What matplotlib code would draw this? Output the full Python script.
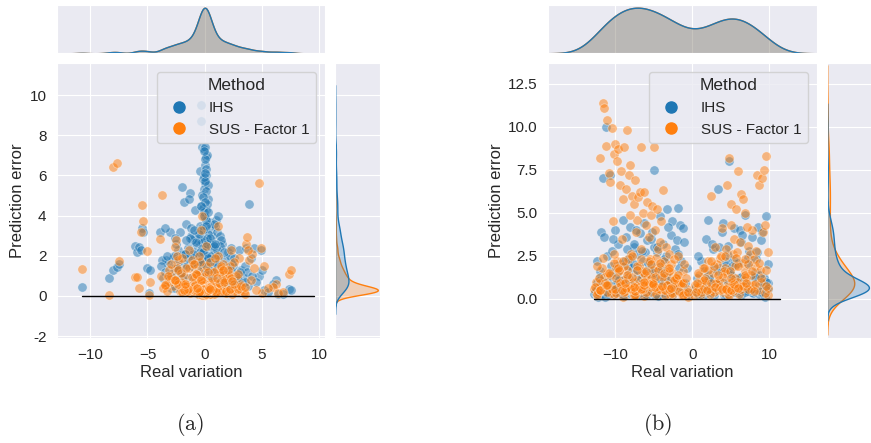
import matplotlib
matplotlib.use("Agg")
import matplotlib.pyplot as plt
from matplotlib.lines import Line2D
import seaborn as sns
import pandas as pd

# ---- panel (a): real variation (shared by both methods) and prediction errors
real_a = [
    -0.30, -0.30, -0.20, -0.10, 0.00, 0.10, 0.20, -0.40, 0.00, 0.15,
    -0.15, 0.05, -0.05, 0.25, -0.25, 0.30, -0.35, 0.10, -0.10, 0.00,
    0.40, -0.45, 0.50, -0.55, 0.60, -0.60, 0.35, -0.20, 0.20, 0.05,
    -0.70, 0.70, -0.80, 0.80, 0.45, -0.50, 0.15, -0.15, 0.55, -0.05,
    0.90, -0.90, 1.00, -1.00, 0.65, -0.65, 0.25, -0.30, 0.35, -0.40,
    1.10, -1.10, 1.20, -1.20, 0.75, -0.75, 0.00, 0.10, -0.10, 0.50,
    -1.5, 1.5, -1.8, 1.8, -2.0, 2.0, -2.3, 2.3, -2.5, 2.5,
    -1.3, 1.3, -1.6, 1.6, -2.2, 2.2, -2.8, 2.8, -3.0, 3.0,
    -1.4, 1.4, -1.7, 1.7, -1.9, 1.9, -2.6, 2.6, -3.2, 3.2,
    -1.2, 1.2, -2.1, 2.1, -2.4, 2.4, -2.7, 2.7, -3.4, 3.4,
    -10.7, -8.4, -8.0, -7.7, -7.5, -6.1, -5.9, -5.7, -5.5, -5.4,
    -5.0, -4.8, -4.9, -3.9, -3.7, -3.5, -3.8, -3.6, -3.3, -5.6,
    3.6, 3.9, 4.3, 4.7, 4.9, 5.0, 5.2, 6.2, 6.0, 6.4,
    7.4, 7.5, 3.5, 3.7, 4.1, 4.5, 5.5, 6.8, 3.8, 4.0,
    0.05, -0.05, 0.15, -0.15, 0.20, -0.25, 0.30, 0.00, -0.35, 0.40,
    1.3, -1.3, 0.85, -0.85, 0.95, -0.95, 1.6, -1.6, 2.0, -2.0,
    0.02, -0.02, 0.08, -0.08, 0.12, -0.12, 0.18, -0.18, 0.22, -0.22,
    0.28, -0.28, 0.32, -0.32, 0.38, -0.38, 0.42, -0.42, 0.48, -0.48,
    0.03, -0.06, 0.09, -0.11, 0.14, -0.16, 0.19, -0.23, 0.27, -0.31,
    0.52, -0.58, 0.62, -0.68, 0.72, -0.78, 0.88, -0.92, 1.05, -1.15,
    0.00, 0.06, -0.04, 0.11, -0.13, 0.17, -0.21, 0.24, -0.26, 0.33,
    1.25, -1.35, 1.45, -1.55, 1.65, -1.75, 1.85, -2.05, 2.25, -2.45,
    0.07, -0.09, 0.13, -0.17, 0.21, -0.24, 0.36, -0.44, 0.56, -0.64,
    2.6, -2.9, 3.1, -3.1, 2.9, -2.6, 0.76, -0.82, 0.98, -1.02,
    0.04, -0.03, 0.10, -0.07, 0.16, -0.19, 0.26, -0.29, 0.34, -0.37,
    1.4, -1.45, 1.7, -1.85, 2.15, -2.35, 0.46, -0.53, 0.66, -0.71,
    -3.2, -2.9, -2.6, -2.3, -2.0, -1.7, -1.4, -1.1, -0.8, -0.5,
    0.5, 0.8, 1.1, 1.4, 1.7, 2.0, 2.3, 2.6, 2.9, 3.2,
    -2.4, -1.6, -0.9, -0.3, 0.3, 0.9, 1.6, 2.4, -3.5, 3.5,
]
ihs_a = [
    9.5, 8.7, 7.4, 7.3, 7.4, 6.9, 7.0, 6.2, 6.5, 6.0,
    5.8, 5.6, 5.3, 5.5, 5.0, 4.8, 4.5, 4.3, 4.1, 3.9,
    3.7, 3.5, 3.3, 3.2, 3.0, 2.9, 2.7, 2.6, 2.5, 2.3,
    2.8, 2.4, 2.6, 2.2, 2.0, 1.9, 1.8, 1.7, 1.5, 1.4,
    3.5, 2.2, 3.8, 1.9, 1.3, 1.1, 1.0, 0.9, 0.8, 0.7,
    3.2, 2.8, 4.0, 3.0, 0.6, 0.5, 0.4, 0.3, 0.2, 0.1,
    2.4, 2.6, 4.7, 1.8, 5.4, 2.2, 2.3, 2.4, 2.6, 1.5,
    5.1, 3.0, 3.6, 1.2, 3.2, 2.0, 1.9, 1.0, 3.2, 2.3,
    4.8, 2.8, 1.6, 0.9, 2.1, 1.4, 2.9, 0.8, 1.6, 1.3,
    3.4, 1.9, 1.2, 0.7, 0.9, 1.6, 2.0, 0.5, 1.8, 0.9,
    0.45, 0.9, 1.3, 1.45, 1.6, 2.5, 2.2, 2.45, 3.4, 3.2,
    1.4, 1.3, 0.15, 3.2, 1.8, 3.4, 1.5, 0.9, 2.0, 2.3,
    2.4, 4.6, 2.4, 1.0, 2.3, 1.3, 0.3, 0.8, 0.6, 0.1,
    0.35, 0.3, 1.5, 1.2, 1.0, 0.7, 0.2, 0.1, 0.5, 1.9,
    0.2, 0.3, 0.5, 0.6, 0.8, 1.0, 1.2, 1.4, 1.1, 1.6,
    2.5, 2.9, 3.6, 4.3, 2.0, 1.7, 0.6, 0.4, 0.3, 0.5,
    6.8, 7.2, 6.3, 5.9, 5.2, 4.9, 4.6, 4.4, 3.6, 3.4,
    3.1, 2.7, 2.5, 2.1, 1.9, 1.6, 1.4, 1.2, 1.0, 0.9,
    0.8, 0.7, 0.6, 0.5, 0.45, 0.4, 0.35, 0.3, 0.25, 0.2,
    2.0, 1.7, 1.3, 1.1, 0.9, 0.8, 0.6, 0.5, 2.3, 0.4,
    5.7, 6.1, 4.2, 3.8, 3.3, 2.9, 2.4, 2.0, 1.8, 1.5,
    1.2, 0.9, 0.7, 1.5, 0.6, 2.1, 0.5, 1.1, 0.4, 0.8,
    1.3, 1.1, 0.95, 0.75, 0.65, 0.55, 1.7, 2.2, 0.35, 0.3,
    0.6, 0.4, 1.2, 1.0, 0.9, 1.4, 2.6, 0.7, 1.6, 2.1,
    4.7, 4.0, 3.5, 2.8, 2.6, 2.2, 1.9, 1.6, 1.3, 1.0,
    0.3, 1.9, 1.1, 0.6, 0.8, 1.3, 0.25, 0.5, 0.7, 0.15,
    0.6, 1.1, 0.4, 1.7, 0.9, 2.1, 0.5, 1.5, 2.7, 3.1,
    2.9, 2.5, 1.6, 0.7, 2.2, 0.5, 1.3, 1.9, 0.8, 0.4,
    1.4, 2.8, 3.3, 4.5, 4.2, 2.6, 1.0, 0.6, 1.2, 0.7,
]
sus_a = [
    0.3, 0.1, 0.5, 0.2, 0.9, 0.4, 0.6, 0.25, 1.2, 0.15,
    0.35, 0.05, 0.7, 0.2, 1.0, 0.45, 0.3, 1.5, 0.1, 0.6,
    0.2, 0.8, 0.35, 0.1, 0.55, 1.3, 0.25, 4.0, 0.4, 0.15,
    0.6, 0.2, 1.1, 0.3, 0.1, 0.5, 2.5, 0.2, 0.7, 0.3,
    0.4, 0.9, 0.15, 0.25, 0.6, 0.3, 0.1, 3.3, 0.45, 1.7,
    0.2, 0.55, 2.0, 0.35, 0.15, 0.8, 0.05, 0.25, 0.4, 0.3,
    0.3, 0.5, 1.0, 0.2, 0.4, 0.8, 1.8, 2.3, 2.8, 0.35,
    0.15, 1.2, 0.6, 0.4, 0.25, 1.5, 0.5, 0.2, 0.7, 1.9,
    2.3, 0.3, 0.2, 1.1, 0.6, 0.15, 2.45, 0.45, 0.9, 0.3,
    0.5, 3.5, 0.7, 0.3, 1.4, 0.1, 0.8, 1.0, 0.6, 0.2,
    1.35, 0.05, 6.4, 6.6, 1.75, 0.95, 0.95, 0.4, 4.55, 3.75,
    2.25, 0.7, 0.05, 2.85, 5.0, 0.5, 1.0, 0.4, 0.25, 3.2,
    2.6, 1.8, 1.4, 5.6, 2.4, 0.15, 1.5, 0.6, 0.45, 0.15,
    1.1, 1.3, 0.1, 2.95, 2.1, 0.3, 0.4, 0.2, 2.3, 0.8,
    0.1, 0.2, 0.3, 0.15, 0.25, 0.05, 0.35, 0.2, 0.45, 0.1,
    0.2, 0.4, 0.1, 0.3, 0.6, 0.2, 1.6, 0.5, 1.0, 0.2,
    0.25, 0.3, 0.2, 0.35, 0.15, 0.4, 0.28, 0.22, 0.1, 0.32,
    0.18, 0.26, 0.45, 0.12, 0.3, 0.5, 0.2, 0.38, 0.08, 0.27,
    0.6, 0.23, 0.33, 0.14, 0.42, 0.29, 0.19, 0.75, 0.24, 0.36,
    0.3, 0.85, 0.21, 1.05, 0.34, 0.17, 1.25, 0.28, 0.4, 0.95,
    0.27, 0.13, 0.31, 0.24, 0.55, 0.2, 0.37, 0.16, 0.29, 0.44,
    0.65, 0.3, 1.4, 0.25, 0.9, 0.48, 0.22, 1.15, 0.35, 0.7,
    0.21, 0.34, 0.26, 0.12, 0.39, 0.23, 0.31, 0.18, 0.47, 0.25,
    1.7, 1.0, 0.6, 1.3, 0.35, 0.8, 0.3, 0.52, 0.2, 1.6,
    0.33, 0.26, 0.11, 0.28, 0.22, 0.36, 0.3, 0.19, 0.41, 0.24,
    1.2, 0.35, 0.78, 0.27, 1.1, 0.58, 0.32, 0.21, 0.9, 0.38,
    1.0, 1.6, 0.8, 1.3, 1.9, 0.6, 1.4, 1.8, 1.1, 2.0,
    1.7, 1.2, 0.9, 1.5, 0.7, 1.3, 0.9, 0.6, 1.1, 0.5,
    2.0, 1.4, 1.6, 0.8, 1.2, 1.9, 1.3, 0.75, 0.55, 0.45,
]

# ---- panel (b)
real_b = [
    -12.7, -12.5, -12.3, -12.0, -11.8, -11.6, -11.4, -11.2, -11.0, -10.8,
    -10.6, -10.4, -10.2, -10.0, -9.8, -9.6, -9.4, -9.2, -9.0, -8.8,
    -8.6, -8.4, -8.2, -8.0, -7.8, -7.6, -7.4, -7.2, -7.0, -6.8,
    -6.6, -6.4, -6.2, -6.0, -5.8, -5.6, -5.4, -5.2, -5.0, -4.8,
    -4.6, -4.4, -4.2, -4.0, -3.8, -3.6, -3.4, -3.2, -3.0, -2.8,
    -2.6, -2.4, -2.2, -2.0, -1.8, -1.6, -1.4, -1.2, -1.0, -0.7,
    -11.5, -10.9, -10.3, -9.7, -9.1, -8.5, -7.9, -7.3, -6.7, -6.1,
    -5.5, -4.9, -4.3, -3.7, -3.1, -2.5, -1.9, -1.3, -8.9, -8.1,
    -7.7, -7.1, -6.5, -5.9, -5.3, -4.7, -6.9, -7.5, -8.3, -9.3,
    -10.1, -9.9, -8.7, -7.0, -6.3, -5.7, -5.1, -4.5, -3.9, -3.3,
    -11.9, -11.1, -10.5, -9.5, -8.0, -7.6, -6.0, -4.1, -2.9, -2.1,
    -12.2, -9.0, -7.8, -6.6, -5.4, -4.4, -3.5, -1.5, -0.9, -0.5,
    0.3, 0.6, 0.9, 1.2, 1.5, 1.8, 2.1, 2.4, 2.7, 3.0,
    3.3, 3.6, 3.9, 4.2, 4.5, 4.8, 5.1, 5.4, 5.7, 6.0,
    6.3, 6.6, 6.9, 7.2, 7.5, 7.8, 8.1, 8.4, 8.7, 9.0,
    9.3, 9.6, 9.9, 1.0, 2.0, 3.2, 4.0, 4.4, 4.7, 5.0,
    5.3, 5.6, 6.2, 6.8, 7.4, 8.0, 8.6, 9.2, 3.5, 4.6,
    2.6, 1.4, 5.9, 6.5, 7.1, 7.7, 8.3, 8.9, 9.5, 9.8,
    0.8, 1.7, 2.9, 3.8, 4.3, 4.9, 5.5, 6.1, 6.7, 7.3,
    2.3, 3.4, 4.1, 4.8, 5.2, 5.8, 6.4, 7.0, 7.9, 8.8,
    -12.6, -12.4, -12.1, -11.9, -11.7, -11.3, -11.0, -10.7, -10.4, -10.1,
    -9.85, -9.55, -9.25, -8.95, -8.65, -8.35, -8.05, -7.75, -7.45, -7.15,
    -6.85, -6.55, -6.25, -5.95, -5.65, -5.35, -5.05, -4.75, -4.45, -4.15,
    -3.85, -3.55, -3.25, -2.95, -2.65, -2.35, -2.05, -1.75, -1.45, -1.15,
    -12.0, -11.2, -10.0, -9.4, -8.8, -8.2, -7.2, -6.4, -5.6, -4.8,
    -7.9, -7.4, -6.9, -6.6, -6.2, -8.6, -9.1, -5.2, -3.0, -0.6,
    0.4, 0.7, 1.1, 1.6, 2.2, 2.8, 3.1, 3.7, 4.0, 4.5,
    4.9, 5.3, 5.8, 6.3, 6.9, 7.6, 8.2, 8.9, 9.4, 9.9,
    1.3, 1.9, 2.5, 3.6, 4.2, 4.7, 5.2, 5.6, 6.6, 7.3,
    0.5, 3.0, 3.9, 4.4, 5.0, 5.4, 6.0, 7.0, 8.0, 9.6,
    -12.3, -11.6, -10.8, -10.2, -9.6, -9.0, -8.4, -7.8, -7.2, -6.6,
    -6.0, -5.4, -4.8, -4.2, -3.6, -3.0, -2.4, -1.8, -1.2, -0.8,
    -11.0, -9.9, -8.7, -7.5, -6.3, -5.1, -3.9, -2.7, 0.6, 1.5,
    2.4, 3.3, 4.2, 5.1, 6.0, 6.9, 7.8, 8.7, 9.6, 5.7,
]
ihs_b = [
    0.3, 0.5, 2.2, 0.8, 3.9, 7.0, 3.6, 10.0, 2.5, 1.2,
    7.2, 2.8, 0.4, 4.0, 1.5, 3.2, 0.9, 2.0, 4.6, 1.1,
    3.6, 0.6, 2.4, 4.2, 1.8, 3.0, 0.7, 2.6, 1.4, 3.8,
    0.5, 2.2, 4.4, 1.3, 3.4, 0.8, 2.0, 3.9, 7.5, 1.6,
    2.7, 0.9, 4.8, 1.9, 3.2, 0.4, 2.5, 5.2, 1.2, 3.7,
    4.5, 0.7, 2.9, 3.4, 5.3, 4.3, 2.2, 4.1, 3.3, 1.8,
    1.0, 0.2, 3.5, 1.9, 0.6, 2.9, 1.1, 4.0, 0.3, 2.7,
    1.4, 3.0, 0.6, 2.3, 4.2, 1.0, 2.6, 0.5, 0.15, 2.4,
    0.9, 1.7, 2.8, 0.2, 3.5, 1.2, 0.7, 3.2, 1.9, 0.4,
    0.8, 1.4, 2.2, 0.3, 1.6, 2.1, 0.9, 3.0, 1.5, 0.6,
    1.6, 0.7, 1.9, 0.5, 1.0, 2.0, 0.2, 1.7, 0.8, 1.3,
    0.1, 0.3, 0.45, 1.2, 0.6, 0.25, 1.1, 0.4, 0.9, 0.2,
    0.5, 1.2, 0.3, 2.2, 1.6, 3.5, 4.6, 1.0, 2.9, 0.7,
    6.4, 1.8, 3.9, 0.9, 2.6, 8.0, 1.4, 4.1, 2.0, 0.4,
    3.3, 1.1, 4.9, 2.4, 0.6, 3.6, 1.5, 2.7, 0.3, 3.9,
    1.2, 4.8, 2.0, 0.2, 1.4, 0.5, 4.4, 1.9, 3.1, 0.8,
    2.3, 1.0, 4.0, 0.5, 2.8, 1.3, 4.2, 0.9, 3.0, 1.7,
    3.2, 0.8, 2.1, 3.7, 1.0, 0.4, 2.3, 3.4, 0.1, 0.6,
    2.5, 0.3, 1.8, 0.6, 2.2, 1.5, 0.4, 1.2, 0.9, 2.0,
    1.1, 1.6, 0.2, 0.7, 1.9, 0.5, 1.3, 0.8, 0.35, 1.4,
    0.4, 0.9, 0.2, 1.3, 0.6, 0.1, 1.0, 0.5, 1.5, 0.3,
    0.7, 1.1, 0.45, 0.2, 0.85, 1.4, 0.35, 0.6, 1.0, 0.25,
    0.5, 1.2, 0.8, 0.3, 0.65, 1.6, 0.4, 0.9, 0.15, 1.1,
    0.6, 0.3, 1.3, 0.75, 0.2, 0.95, 0.5, 1.8, 0.4, 0.7,
    1.1, 0.55, 0.8, 0.35, 0.6, 0.9, 0.45, 0.7, 0.5, 0.25,
    0.55, 0.65, 0.85, 0.4, 0.7, 0.5, 0.6, 0.75, 0.9, 0.3,
    0.6, 0.3, 0.9, 0.45, 1.2, 0.2, 0.7, 1.0, 0.5, 0.8,
    0.35, 1.1, 0.6, 0.25, 0.85, 0.5, 1.3, 0.4, 0.7, 0.95,
    0.55, 0.8, 0.4, 0.65, 0.3, 0.75, 0.6, 0.9, 0.5, 0.45,
    0.7, 0.6, 0.55, 0.85, 0.65, 0.4, 0.5, 0.75, 0.6, 1.0,
    0.5, 0.3, 0.8, 0.6, 0.4, 0.9, 0.7, 0.5, 1.0, 0.6,
    0.8, 0.45, 0.7, 0.55, 0.9, 0.65, 0.5, 0.75, 0.6, 0.4,
    0.35, 0.55, 0.65, 0.5, 0.7, 0.6, 0.8, 0.45, 0.6, 0.7,
    0.5, 0.9, 0.55, 0.65, 0.75, 0.4, 0.6, 0.8, 0.5, 0.7,
]
sus_b = [
    0.6, 1.0, 0.2, 8.2, 0.5, 11.4, 11.1, 8.9, 10.4, 7.3,
    6.8, 9.9, 8.4, 9.0, 8.0, 8.7, 6.6, 7.4, 5.8, 8.8,
    6.4, 9.8, 7.2, 7.8, 6.0, 5.5, 6.9, 4.6, 5.9, 6.2,
    8.8, 5.0, 6.2, 4.3, 5.6, 3.6, 4.9, 5.4, 8.8, 4.0,
    5.2, 2.9, 3.3, 4.5, 6.3, 2.2, 3.0, 1.8, 2.6, 2.0,
    1.5, 2.3, 1.2, 0.9, 2.5, 1.0, 0.4, 1.6, 2.0, 0.6,
    1.3, 0.8, 4.5, 2.2, 3.5, 1.7, 2.6, 3.9, 2.9, 1.4,
    2.3, 0.7, 1.9, 0.5, 1.1, 0.3, 0.8, 0.2, 1.9, 4.9,
    1.0, 0.5, 1.6, 1.2, 0.4, 2.4, 1.9, 0.2, 1.3, 0.9,
    0.3, 1.8, 0.6, 1.1, 0.15, 0.9, 1.7, 0.5, 1.4, 0.8,
    0.9, 1.5, 0.35, 1.7, 0.55, 0.25, 1.0, 0.7, 0.3, 1.2,
    0.4, 0.1, 0.8, 0.5, 1.3, 0.6, 0.2, 0.9, 0.35, 0.1,
    0.2, 0.6, 1.4, 0.3, 1.0, 0.8, 2.2, 6.0, 1.5, 3.0,
    0.5, 2.4, 4.1, 1.8, 6.6, 8.2, 5.5, 3.5, 5.2, 7.4,
    6.1, 5.8, 5.0, 3.1, 2.6, 4.0, 1.9, 7.2, 6.6, 7.0,
    7.5, 8.3, 2.7, 0.9, 1.7, 2.0, 0.4, 2.9, 0.9, 4.3,
    2.6, 1.2, 3.3, 1.6, 0.8, 2.3, 0.5, 3.9, 1.1, 0.3,
    0.5, 1.8, 0.7, 2.1, 4.2, 1.4, 2.8, 1.0, 4.3, 0.2,
    0.7, 1.2, 0.4, 2.5, 1.5, 0.6, 1.9, 0.3, 1.1, 2.0,
    0.3, 0.9, 1.6, 0.2, 1.0, 2.7, 0.6, 1.3, 0.8, 1.7,
    0.7, 0.3, 1.2, 0.5, 1.8, 0.9, 0.4, 1.4, 0.6, 2.1,
    0.35, 1.6, 0.8, 1.1, 0.45, 2.3, 0.65, 1.3, 0.25, 1.9,
    0.55, 0.9, 1.5, 0.4, 2.2, 0.7, 1.0, 0.3, 1.7, 0.6,
    1.3, 0.5, 0.8, 1.6, 0.35, 0.7, 1.2, 0.45, 0.9, 0.25,
    0.5, 0.8, 0.6, 0.95, 0.4, 0.65, 0.75, 0.55, 0.85, 0.7,
    0.6, 0.45, 0.7, 0.55, 0.8, 0.65, 0.5, 0.9, 0.6, 0.4,
    0.8, 1.5, 0.4, 1.1, 0.6, 1.9, 0.9, 0.5, 1.3, 0.7,
    1.6, 0.45, 1.0, 0.75, 1.4, 0.55, 0.85, 1.2, 0.35, 0.65,
    0.6, 0.5, 0.9, 0.7, 0.55, 0.45, 0.8, 0.65, 0.75, 0.6,
    0.4, 0.7, 0.55, 0.6, 0.5, 0.85, 0.65, 0.9, 0.45, 0.75,
    1.9, 2.4, 1.5, 2.6, 1.8, 2.2, 1.4, 2.5, 1.7, 2.3,
    1.6, 2.0, 1.3, 2.1, 1.5, 1.8, 1.1, 1.4, 0.9, 1.2,
    0.8, 1.2, 0.9, 0.7, 1.0, 0.85, 0.75, 0.65, 0.9, 1.8,
    2.2, 1.4, 2.5, 1.2, 1.9, 2.3, 1.6, 2.1, 1.7, 2.4,
]

methods = ["IHS", "SUS - Factor 1"]
zero_line_a = [-10.7, 9.5]
zero_line_b = [-12.8, 11.4]

sns.set_style("darkgrid")
plt.rcParams["font.family"] = ["Liberation Sans", "DejaVu Sans"]
plt.rcParams["mathtext.fontset"] = "cm"
palette = {"IHS": "#1f77b4", "SUS - Factor 1": "#ff7f0e"}


def long_table(real, ihs, sus):
    return pd.DataFrame({
        "real": list(real) + list(real),
        "error": list(ihs) + list(sus),
        "Method": [methods[0]] * len(ihs) + [methods[1]] * len(sus),
    })


def joint_panel(fig, rect, df, zero_line, xlim, ylim, xticks, yticks, yfmt, bw):
    left, bottom, width, height, top_h, side_gap, side_w = rect
    ax = fig.add_axes([left, bottom, width, height])
    ax_top = fig.add_axes([left, bottom + height + 0.022, width, top_h])
    ax_side = fig.add_axes([left + width + side_gap, bottom, side_w, height])

    for m in methods:
        sub = df[df["Method"] == m]
        ax.scatter(sub["real"], sub["error"], s=45, color=palette[m],
                   alpha=0.5, edgecolor="white", linewidth=0.5, zorder=2)
    ax.plot(zero_line, [0, 0], color="black", lw=1, zorder=3)
    ax.set_xlim(*xlim)
    ax.set_ylim(*ylim)
    ax.set_xticks(xticks)
    ax.set_yticks(yticks)
    ax.set_yticklabels([yfmt.format(v) for v in yticks])
    ax.tick_params(labelsize=11, pad=4)
    ax.set_xlabel("Real variation", fontsize=12, labelpad=2)
    ax.set_ylabel("Prediction error", fontsize=12, labelpad=3)

    handles = [Line2D([], [], marker="o", ls="", color=palette[m], markersize=8)
               for m in methods]
    leg = ax.legend(handles, methods, title="Method", loc="upper right",
                    fontsize=11, title_fontsize=12.5, frameon=True,
                    borderaxespad=0.6, labelspacing=0.5, handletextpad=1.0)
    leg.get_frame().set_facecolor("#eaeaf2")

    sns.kdeplot(data=df, x="real", hue="Method", palette=palette, fill=True,
                legend=False, ax=ax_top, bw_adjust=bw)
    ax_top.set_xlim(*xlim)
    ax_top.set_xticks(xticks)
    ax_top.set_ylim(bottom=0)
    ax_top.yaxis.grid(False)
    ax_top.set_xlabel("")
    ax_top.set_ylabel("")
    ax_top.tick_params(labelbottom=False, labelleft=False, length=0)

    sns.kdeplot(data=df, y="error", hue="Method", palette=palette, fill=True,
                legend=False, ax=ax_side, bw_adjust=bw)
    ax_side.set_ylim(*ylim)
    ax_side.set_yticks(yticks)
    ax_side.set_xlim(left=0)
    ax_side.xaxis.grid(False)
    ax_side.set_xlabel("")
    ax_side.set_ylabel("")
    ax_side.tick_params(labelbottom=False, labelleft=False, length=0)
    return ax


fig = plt.figure(figsize=(8.71, 4.43), dpi=100)

joint_panel(fig, [0.0654, 0.237, 0.3077, 0.6208, 0.108, 0.0115, 0.0517],
            long_table(real_a, ihs_a, sus_a), zero_line_a,
            (-12.9, 10.5), (-2.1, 11.6), [-10, -5, 0, 5, 10],
            [-2, 0, 2, 4, 6, 8, 10], "{:d}", 0.6)
joint_panel(fig, [0.6292, 0.237, 0.3088, 0.6208, 0.108, 0.0115, 0.0505],
            long_table(real_b, ihs_b, sus_b), zero_line_b,
            (-18.7, 16.2), (-2.27, 13.7), [-10, 0, 10],
            [0.0, 2.5, 5.0, 7.5, 10.0, 12.5], "{:.1f}", 1.0)

fig.text(0.218, 0.012, r"$\mathrm{(a)}$", fontsize=16, ha="center", va="bottom")
fig.text(0.755, 0.012, r"$\mathrm{(b)}$", fontsize=16, ha="center", va="bottom")

fig.savefig("out.png", dpi=100, facecolor="white")
